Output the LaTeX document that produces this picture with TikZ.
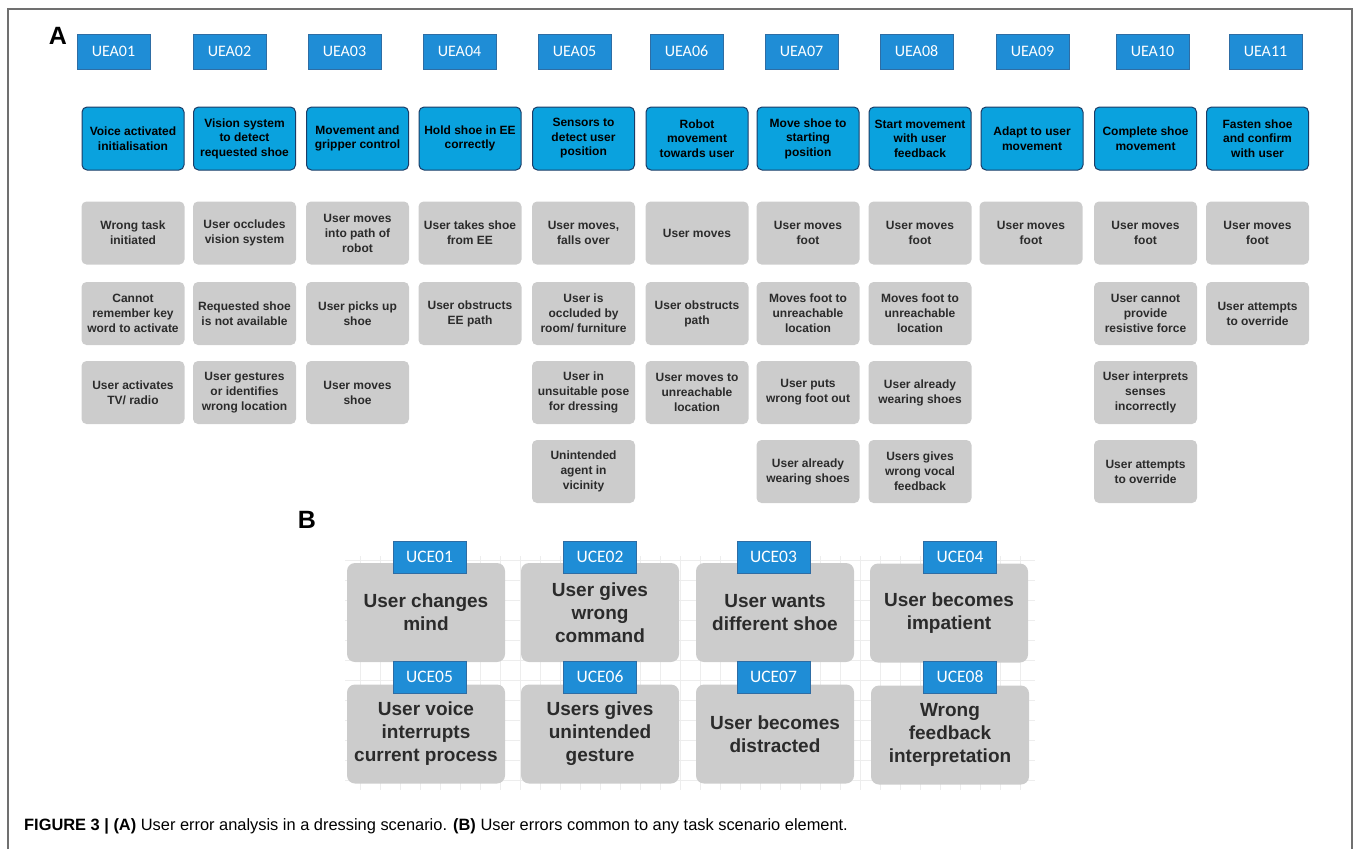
\documentclass[tikz,border=0pt]{standalone}
\usepackage{fontspec}
\setmainfont{Liberation Sans}
\newfontfamily\labelfont{Carlito}
\usetikzlibrary{positioning}
\definecolor{ueablue}{HTML}{1F8DD6}
\definecolor{ueaedge}{HTML}{2E6DA4}
\definecolor{taskblue}{HTML}{0AA2DE}
\definecolor{taskedge}{HTML}{1C3C66}
\definecolor{errgray}{HTML}{CCCCCC}
\definecolor{errtext}{HTML}{2B2B2B}
\definecolor{framegray}{HTML}{707070}
\definecolor{gridgray}{HTML}{EDEDED}

\begin{document}
\begin{tikzpicture}[x=1pt,y=-1pt,
  uea/.style={draw=ueaedge,fill=ueablue,text=white,minimum width=73pt,minimum height=35pt,inner sep=0pt,font=\labelfont\fontsize{16}{16}\selectfont},
  uce/.style={uea,minimum height=32pt,font=\labelfont\fontsize{17.5}{17.5}\selectfont},
  task/.style={draw=taskedge,line width=1pt,fill=taskblue,rounded corners=5pt,minimum width=102pt,minimum height=63pt,inner sep=0pt,align=center,font=\bfseries\fontsize{12}{14.5}\selectfont},
  err/.style={fill=errgray,text=errtext,rounded corners=5pt,minimum width=103pt,minimum height=63pt,inner sep=0pt,align=center,font=\bfseries\fontsize{12}{15}\selectfont},
  common/.style={err,rounded corners=8pt,minimum width=158pt,minimum height=99pt,font=\bfseries\fontsize{19}{23}\selectfont},
  panel/.style={font=\bfseries\fontsize{25}{25}\selectfont}]

\useasboundingbox (0,0) rectangle (1356,849);
\draw[framegray,line width=1.2pt] (8,849) -- (8,9) -- (1352,9) -- (1352,849);

% panel A
\node[panel] (pA) at (58,36) {A};

\foreach \n/\x in {01/113.5,02/229.5,03/344.5,04/459.5,05/574.5,06/686.5,07/801.5,08/916.5,09/1032.5,10/1152.5,11/1265.5}
  \node[uea] (uea\n) at (\x,51.5) {UEA\n};

\foreach \n/\x/\t in {01/133/{Voice activated\\initialisation},
    02/244.5/{Vision system\\to detect\\requested shoe},
    03/357.5/{Movement and\\gripper control},
    04/470/{Hold shoe in EE\\correctly},
    05/583.5/{Sensors to\\detect user\\position},
    06/697/{Robot\\movement\\towards user},
    07/808/{Move shoe to\\starting\\position},
    08/920/{Start movement\\with user\\feedback},
    09/1032/{Adapt to user\\movement},
    10/1145.5/{Complete shoe\\movement},
    11/1257.5/{Fasten shoe\\and confirm\\with user}}
  \node[task] (task\n) at (\x,138.5) {\t};

% user errors per task
\foreach \n/\x/\y/\t in {1a/133/233/{Wrong task\\initiated},
    1b/133/313.5/{Cannot\\remember key\\word to activate},
    1c/133/392.5/{User activates\\TV/ radio},
    2a/244.5/233/{User occludes\\vision system},
    2b/244.5/313.5/{Requested shoe\\is not available},
    2c/244.5/392.5/{User gestures\\or identifies\\wrong location},
    3a/357.5/233/{User moves\\into path of\\robot},
    3b/357.5/313.5/{User picks up\\shoe},
    3c/357.5/392.5/{User moves\\shoe},
    4a/470/233/{User takes shoe\\from EE},
    4b/470/313.5/{User obstructs\\EE path},
    5a/583.5/233/{User moves,\\falls over},
    5b/583.5/313.5/{User is\\occluded by\\room/ furniture},
    5c/583.5/392.5/{User in\\unsuitable pose\\for dressing},
    5d/583.5/471.5/{Unintended\\agent in\\vicinity},
    6a/697/233/{User moves},
    6b/697/313.5/{User obstructs\\path},
    6c/697/392.5/{User moves to\\unreachable\\location},
    7a/808/233/{User moves\\foot},
    7b/808/313.5/{Moves foot to\\unreachable\\location},
    7c/808/392.5/{User puts\\wrong foot out},
    7d/808/471.5/{User already\\wearing shoes},
    8a/920/233/{User moves\\foot},
    8b/920/313.5/{Moves foot to\\unreachable\\location},
    8c/920/392.5/{User already\\wearing shoes},
    8d/920/471.5/{Users gives\\wrong vocal\\feedback},
    9a/1031/233/{User moves\\foot},
    10a/1145.5/233/{User moves\\foot},
    10b/1145.5/313.5/{User cannot\\provide\\resistive force},
    10c/1145.5/392.5/{User interprets\\senses\\incorrectly},
    10d/1145.5/471.5/{User attempts\\to override},
    11a/1257.5/233/{User moves\\foot},
    11b/1257.5/313.5/{User attempts\\to override}}
  \node[err] (err\n) at (\x,\y) {\t};

% panel B
\node[panel] (pB) at (307,520) {B};

\foreach \x in {360,380,...,1030}
  \draw[gridgray,line width=0.6pt] (\x,556) -- (\x,790);
\foreach \y in {560,580,...,780}
  \draw[gridgray,line width=0.6pt] (345,\y) -- (1035,\y);

\foreach \n/\x/\y/\t in {01/426/612.5/{User changes\\mind},
    02/600/612.5/{User gives\\wrong\\command},
    03/775/612.5/{User wants\\different shoe},
    04/949/613/{User becomes\\impatient},
    05/426/734/{User voice\\interrupts\\current process},
    06/600/734/{Users gives\\unintended\\gesture},
    07/775/734/{User becomes\\distracted},
    08/950/735/{Wrong\\feedback\\interpretation}}
  \node[common] (common\n) at (\x,\y) {\t};

\foreach \n/\x/\y in {01/429.5/557,02/600/557,03/773.5/557,04/960/557,
    05/429.5/677,06/600/677,07/773.5/677,08/960/677}
  \node[uce] (uce\n) at (\x,\y) {UCE\n};

% caption
\node[anchor=base west,inner sep=0pt,font=\fontsize{16.4}{16.4}\selectfont] (caption) at (24,830.5)
  {\textbf{FIGURE 3 | (A)} User error analysis in a dressing scenario. \textbf{(B)} User errors common to any task scenario element.};

\end{tikzpicture}
\end{document}
